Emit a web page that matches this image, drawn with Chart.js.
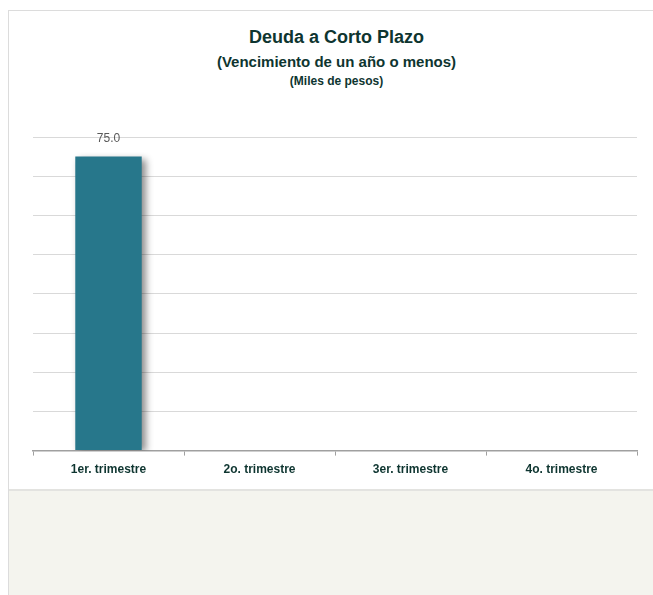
<!DOCTYPE html>
<html lang="es">
  <head>
    <meta charset="UTF-8" />
    <title>Deuda a Corto Plazo</title>
    <script src="https://cdn.jsdelivr.net/npm/chart.js@4.4.1/dist/chart.umd.min.js"></script>
    <style>
      html, body {
        margin: 0;
        padding: 0;
        background: #ffffff;
        font-family: "Liberation Sans", Arial, sans-serif;
      }
      .frame {
        position: absolute;
        left: 8px;
        top: 10px;
        width: 645px;
        height: 585px;
        border-left: 1px solid #dcdcdc;
        border-top: 1px solid #dcdcdc;
        background: #f4f4ee;
      }
      .box {
        position: absolute;
        left: 0;
        top: 0;
        width: 645px;
        height: 478px;
        background: #ffffff;
        border-bottom: 2px solid #e3e3e0;
      }
      .titles {
        position: absolute;
        left: 0;
        top: 0;
        width: 655px;
        text-align: center;
        color: #0e3530;
        font-weight: bold;
      }
      .t1 { position: absolute; width: 100%; top: 16px; font-size: 18px; }
      .t2 { position: absolute; width: 100%; top: 42px; font-size: 15px; }
      .t3 { position: absolute; width: 100%; top: 63px; font-size: 12px; }
      .chart-wrap {
        position: absolute;
        left: -9px;
        top: -11px;
        width: 653px;
        height: 490px;
      }
    </style>
  </head>
  <body>
    <div class="frame">
      <div class="box">
        <div class="titles">
          <div class="t1">Deuda a Corto Plazo</div>
          <div class="t2">(Vencimiento de un año o menos)</div>
          <div class="t3">(Miles de pesos)</div>
        </div>
        <div class="chart-wrap">
          <canvas id="deudaChart"></canvas>
        </div>
      </div>
    </div>

    <script>
      const categories = ["1er. trimestre", "2o. trimestre", "3er. trimestre", "4o. trimestre"];
      const deuda = [75.0, null, null, null];
      const yMax = 80;
      const yStep = 10;

      // sombra gris bajo la barra
      const barShadow = {
        id: "barShadow",
        beforeDatasetsDraw(chart) {
          const ctx = chart.ctx;
          ctx.save();
          ctx.shadowColor = "rgba(0, 0, 0, 0.45)";
          ctx.shadowBlur = 7;
          ctx.shadowOffsetX = 4;
          ctx.shadowOffsetY = 2;
        },
        afterDatasetsDraw(chart) {
          chart.ctx.restore();
        },
      };

      // etiqueta del valor encima de la barra
      const valueLabels = {
        id: "valueLabels",
        afterDatasetsDraw(chart) {
          const ctx = chart.ctx;
          const meta = chart.getDatasetMeta(0);
          ctx.save();
          ctx.font = "12px 'Liberation Sans', Arial, sans-serif";
          ctx.fillStyle = "#595959";
          ctx.textAlign = "center";
          ctx.textBaseline = "bottom";
          meta.data.forEach((bar, i) => {
            const v = deuda[i];
            if (v === null) return;
            ctx.fillText(v.toFixed(1), bar.x, bar.y - 12);
          });
          ctx.restore();
        },
      };

      const ctx = document.getElementById("deudaChart").getContext("2d");

      new Chart(ctx, {
        type: "bar",
        data: {
          labels: categories,
          datasets: [
            {
              label: "Deuda",
              data: deuda,
              backgroundColor: "#27778b",
              borderWidth: 0,
              categoryPercentage: 1.0,
              barPercentage: 0.44,
            },
          ],
        },
        options: {
          responsive: true,
          maintainAspectRatio: false,
          animation: false,
          layout: {
            padding: { left: 33, right: 16, top: 137, bottom: 6 },
          },
          plugins: {
            legend: { display: false },
            title: { display: false },
            tooltip: { enabled: false },
          },
          scales: {
            x: {
              offset: true,
              grid: {
                display: true,
                offset: true,
                drawOnChartArea: false,
                drawTicks: true,
                tickLength: 5,
                color: "#a0a0a0",
              },
              border: { display: true, color: "#a0a0a0", width: 1.5 },
              ticks: {
                color: "#0e3530",
                padding: 7,
                font: { family: "'Liberation Sans', Arial, sans-serif", size: 12, weight: "bold" },
              },
            },
            y: {
              min: 0,
              max: yMax,
              ticks: { display: false, stepSize: yStep },
              grid: { color: "#d9d9d9", drawTicks: false, lineWidth: 1 },
              border: { display: false },
            },
          },
        },
        plugins: [barShadow, valueLabels],
      });
    </script>
  </body>
</html>
